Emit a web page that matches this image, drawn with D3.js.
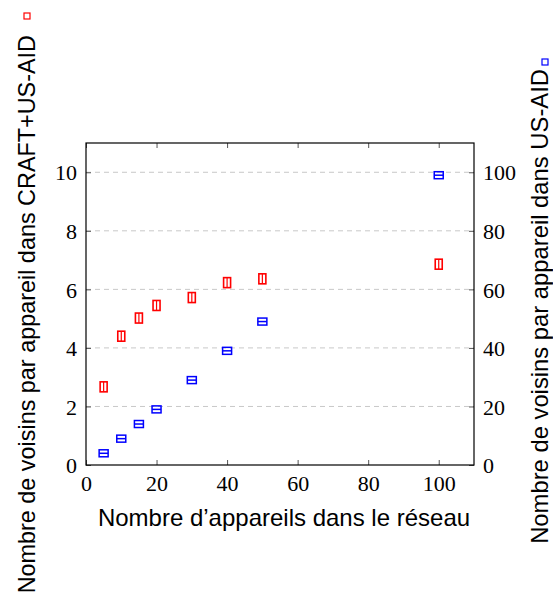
<!DOCTYPE html>
<html><head><meta charset="utf-8">
<script src="https://cdn.jsdelivr.net/npm/d3@7"></script>
<style>body{margin:0;background:#fff}</style>
</head><body>
<svg id="c" width="553" height="596"></svg>
<script>
const devices = [5, 10, 15, 20, 30, 40, 50, 100];
const craftNeighbors = [2.67, 4.40, 5.02, 5.45, 5.72, 6.23, 6.36, 6.86];
const usaidNeighbors = [4, 9, 14, 19, 29, 39, 49, 99];
const xTicks = [0, 20, 40, 60, 80, 100];
const yLeftTicks = [0, 2, 4, 6, 8, 10];
const yRightTicks = [0, 20, 40, 60, 80, 100];
const xLabel = "Nombre d’appareils dans le réseau";
const yLeftLabel = "Nombre de voisins par appareil dans CRAFT+US-AID";
const yRightLabel = "Nombre de voisins par appareil dans US-AID";

const svg = d3.select("#c");
const L = 86, R = 474, T = 143, B = 465;
const x = d3.scaleLinear().domain([0, 110]).range([L, R]);
const yL = d3.scaleLinear().domain([0, 11]).range([B, T]);
const yR = d3.scaleLinear().domain([0, 110]).range([B, T]);
const serif = "'Liberation Serif', 'DejaVu Serif', serif";
const sans = "'Liberation Sans', Arial, sans-serif";
const tickFont = 22, labelFont = 24;

// grid
svg.append("g").selectAll("line").data(yLeftTicks.filter(d => d > 0)).join("line")
  .attr("x1", L).attr("x2", R).attr("y1", d => yL(d)).attr("y2", d => yL(d))
  .attr("stroke", "#c8c8c8").attr("stroke-width", 1).attr("stroke-dasharray", "5,4");

// axes
const tick = 5;
const gL = svg.append("g").attr("transform", `translate(${L},0)`)
  .call(d3.axisLeft(yL).tickValues(yLeftTicks).tickSizeInner(-tick).tickSizeOuter(0).tickPadding(9));
const gR = svg.append("g").attr("transform", `translate(${R},0)`)
  .call(d3.axisRight(yR).tickValues(yRightTicks).tickSizeInner(-tick).tickSizeOuter(0).tickPadding(9));
const gB = svg.append("g").attr("transform", `translate(0,${B})`)
  .call(d3.axisBottom(x).tickValues(xTicks).tickSizeInner(-tick).tickSizeOuter(0).tickPadding(10));
const gT = svg.append("g").attr("transform", `translate(0,${T})`)
  .call(d3.axisTop(x).tickValues(xTicks).tickSizeInner(-tick).tickSizeOuter(0).tickFormat(""));
[gL, gR, gB, gT].forEach(g => {
  g.select(".domain").remove();
  g.selectAll(".tick line").attr("stroke", "#555");
  g.selectAll(".tick text").attr("font-family", serif).attr("font-size", tickFont).attr("fill", "#000");
});
gB.selectAll(".tick text").attr("dy", "0.71em");
gL.selectAll(".tick text").attr("dy", "0.35em");
gR.selectAll(".tick text").attr("dy", "0.35em");

svg.append("rect").attr("x", L).attr("y", T).attr("width", R - L).attr("height", B - T)
  .attr("fill", "none").attr("stroke", "#000").attr("stroke-width", 1.2);

// red series (left axis): box with vertical bar
const red = svg.append("g").selectAll("g").data(devices.map((d, i) => [d, craftNeighbors[i]])).join("g")
  .attr("transform", d => `translate(${x(d[0])},${yL(d[1])})`);
red.append("rect").attr("x", -3.5).attr("y", -5).attr("width", 7).attr("height", 10)
  .attr("fill", "none").attr("stroke", "#ff0000").attr("stroke-width", 1.6);
red.append("line").attr("x1", 0).attr("x2", 0).attr("y1", -5).attr("y2", 5)
  .attr("stroke", "#ff0000").attr("stroke-width", 1.2);

// blue series (right axis): box with horizontal bar
const blue = svg.append("g").selectAll("g").data(devices.map((d, i) => [d, usaidNeighbors[i]])).join("g")
  .attr("transform", d => `translate(${x(d[0])},${yR(d[1])})`);
blue.append("rect").attr("x", -4.5).attr("y", -3.5).attr("width", 9).attr("height", 7)
  .attr("fill", "none").attr("stroke", "#0000ff").attr("stroke-width", 1.5);
blue.append("line").attr("x1", -4.5).attr("x2", 4.5).attr("y1", 0).attr("y2", 0)
  .attr("stroke", "#0000ff").attr("stroke-width", 1.5);

// labels
svg.append("text").attr("x", 284).attr("y", 526).attr("text-anchor", "middle")
  .attr("font-family", sans).attr("font-size", labelFont).text(xLabel);

svg.append("text").attr("transform", "translate(35,35) rotate(-90)").attr("text-anchor", "end")
  .attr("font-family", sans).attr("font-size", 23.4).text(yLeftLabel);
svg.append("rect").attr("x", 24).attr("y", 13).attr("width", 6).attr("height", 6)
  .attr("fill", "none").attr("stroke", "#ff0000").attr("stroke-width", 1.2);

svg.append("text").attr("transform", "translate(548,69) rotate(-90)").attr("text-anchor", "end")
  .attr("font-family", sans).attr("font-size", 23.8).text(yRightLabel);
svg.append("rect").attr("x", 542).attr("y", 59).attr("width", 6).attr("height", 6)
  .attr("fill", "none").attr("stroke", "#0000ff").attr("stroke-width", 1.2);
</script>
</body></html>
